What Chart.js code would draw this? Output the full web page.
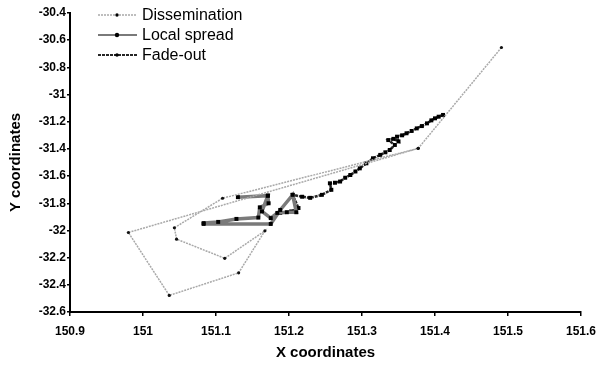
<!DOCTYPE html>
<html>
<head>
<meta charset="utf-8">
<script src="https://cdn.jsdelivr.net/npm/chart.js@4/dist/chart.umd.min.js"></script>
<style>
  html, body { margin: 0; padding: 0; background: #fff; }
  #wrap { width: 596px; height: 365px; position: relative; }
</style>
</head>
<body>
<div id="wrap"><canvas id="c"></canvas></div>
<script>
// series (longitude / latitude)
const dissX = [151.491, 151.377, 151.109, 151.043, 151.046, 151.112, 151.167, 151.131, 151.036, 150.980, 151.377];
const dissY = [-30.654, -31.396, -31.763, -31.980, -32.064, -32.205, -32.003, -32.312, -32.478, -32.015, -31.396];

const localX = [151.083, 151.103, 151.128, 151.158, 151.160, 151.172, 151.171, 151.130, 151.171, 151.163, 151.175, 151.184, 151.197, 151.210, 151.205, 151.188, 151.175, 151.083];
const localY = [-31.946, -31.937, -31.915, -31.905, -31.830, -31.800, -31.744, -31.755, -31.744, -31.860, -31.909, -31.871, -31.866, -31.866, -31.738, -31.849, -31.952, -31.952];

const fadeX = [151.188, 151.203, 151.213, 151.205, 151.218, 151.229, 151.245, 151.258, 151.256, 151.263, 151.270, 151.277, 151.284, 151.291, 151.297, 151.306, 151.315, 151.325, 151.332, 151.338, 151.345, 151.336, 151.343, 151.350, 151.348, 151.355, 151.361, 151.368, 151.375, 151.382, 151.389, 151.395, 151.400, 151.405, 151.411];
const fadeY = [-31.871, -31.860, -31.835, -31.738, -31.752, -31.760, -31.738, -31.701, -31.653, -31.649, -31.640, -31.612, -31.592, -31.566, -31.543, -31.506, -31.469, -31.444, -31.425, -31.408, -31.371, -31.335, -31.326, -31.345, -31.310, -31.300, -31.285, -31.268, -31.249, -31.232, -31.212, -31.190, -31.175, -31.163, -31.150];

const xTicks = { min: 150.9, max: 151.6, step: 0.1 };
const yTicks = { min: -32.6, max: -30.4, step: 0.2 };

const toPts = (xs, ys) => xs.map((x, i) => ({ x: x, y: ys[i] }));
const FONT = '"Liberation Sans", Arial, Helvetica, sans-serif';
const fmt = v => String(Number(v.toFixed(1)));

// legend drawn inside the plot, top-left, line sample + marker + label
const insideLegend = {
  id: 'insideLegend',
  afterDraw(chart) {
    const ctx = chart.ctx;
    ctx.save();
    chart.data.datasets.forEach((ds, i) => {
      const y = 15 + i * 20;
      ctx.strokeStyle = ds.borderColor;
      ctx.lineWidth = Math.min(ds.borderWidth, 2);
      ctx.setLineDash(ds.borderDash || []);
      ctx.beginPath();
      ctx.moveTo(98, y);
      ctx.lineTo(137, y);
      ctx.stroke();
      ctx.setLineDash([]);
      ctx.fillStyle = '#000';
      ctx.beginPath();
      ctx.arc(117, y, i === 1 ? 2.2 : 1.7, 0, Math.PI * 2);
      ctx.fill();
      ctx.font = '16px ' + FONT;
      ctx.textBaseline = 'middle';
      ctx.textAlign = 'left';
      ctx.fillText(ds.label, 142, y + 1);
    });
    ctx.restore();
  }
};

new Chart(document.getElementById('c'), {
  type: 'scatter',
  data: {
    datasets: [
      {
        label: 'Dissemination',
        data: toPts(dissX, dissY),
        showLine: true,
        borderColor: '#a9a9a9',
        borderWidth: 1.5,
        borderDash: [2, 1],
        pointRadius: 1.6,
        pointBackgroundColor: '#111',
        pointBorderWidth: 0
      },
      {
        label: 'Local spread',
        data: toPts(localX, localY),
        showLine: true,
        borderColor: '#7a7a7a',
        borderWidth: 3.5,
        pointStyle: 'rect',
        pointRadius: 2.8,
        pointBackgroundColor: '#000',
        pointBorderWidth: 0
      },
      {
        label: 'Fade-out',
        data: toPts(fadeX, fadeY),
        showLine: true,
        borderColor: '#262626',
        borderWidth: 2.5,
        borderDash: [3, 1],
        pointStyle: 'rect',
        pointRadius: 2.8,
        pointBackgroundColor: '#000',
        pointBorderWidth: 0
      }
    ]
  },
  options: {
    responsive: true,
    maintainAspectRatio: false,
    animation: false,
    devicePixelRatio: 1,
    layout: { padding: { left: 0, top: 13, right: 15, bottom: 0 } },
    plugins: {
      legend: { display: false },
      tooltip: { enabled: false }
    },
    scales: {
      x: {
        type: 'linear',
        position: 'bottom',
        min: xTicks.min,
        max: xTicks.max,
        afterFit: s => { s.height = 53; s.paddingLeft = 0; s.paddingRight = 0; },
        border: { display: true, color: '#000', width: 2 },
        grid: { drawOnChartArea: false, drawTicks: true, tickLength: 4, color: '#000', lineWidth: 1.5 },
        ticks: {
          stepSize: xTicks.step,
          padding: 8,
          color: '#000',
          maxRotation: 0,
          font: { family: FONT, size: 12, weight: 'bold' },
          callback: v => fmt(v)
        },
        title: {
          display: true,
          text: 'X coordinates',
          color: '#000',
          font: { family: FONT, size: 15, weight: 'bold' },
          padding: { top: 0, bottom: 3 }
        }
      },
      y: {
        type: 'linear',
        position: 'left',
        min: yTicks.min,
        max: yTicks.max,
        afterFit: s => { s.width = 70; s.paddingTop = 0; s.paddingBottom = 0; },
        border: { display: true, color: '#000', width: 2 },
        grid: { drawOnChartArea: false, drawTicks: true, tickLength: 3, color: '#000', lineWidth: 1.5 },
        ticks: {
          stepSize: yTicks.step,
          padding: 1,
          color: '#000',
          font: { family: FONT, size: 12, weight: 'bold' },
          callback: v => fmt(v)
        },
        title: {
          display: true,
          text: 'Y coordinates',
          color: '#000',
          font: { family: FONT, size: 15, weight: 'bold' },
          padding: { top: 7, bottom: 0 }
        }
      }
    }
  },
  plugins: [insideLegend]
});
</script>
</body>
</html>
